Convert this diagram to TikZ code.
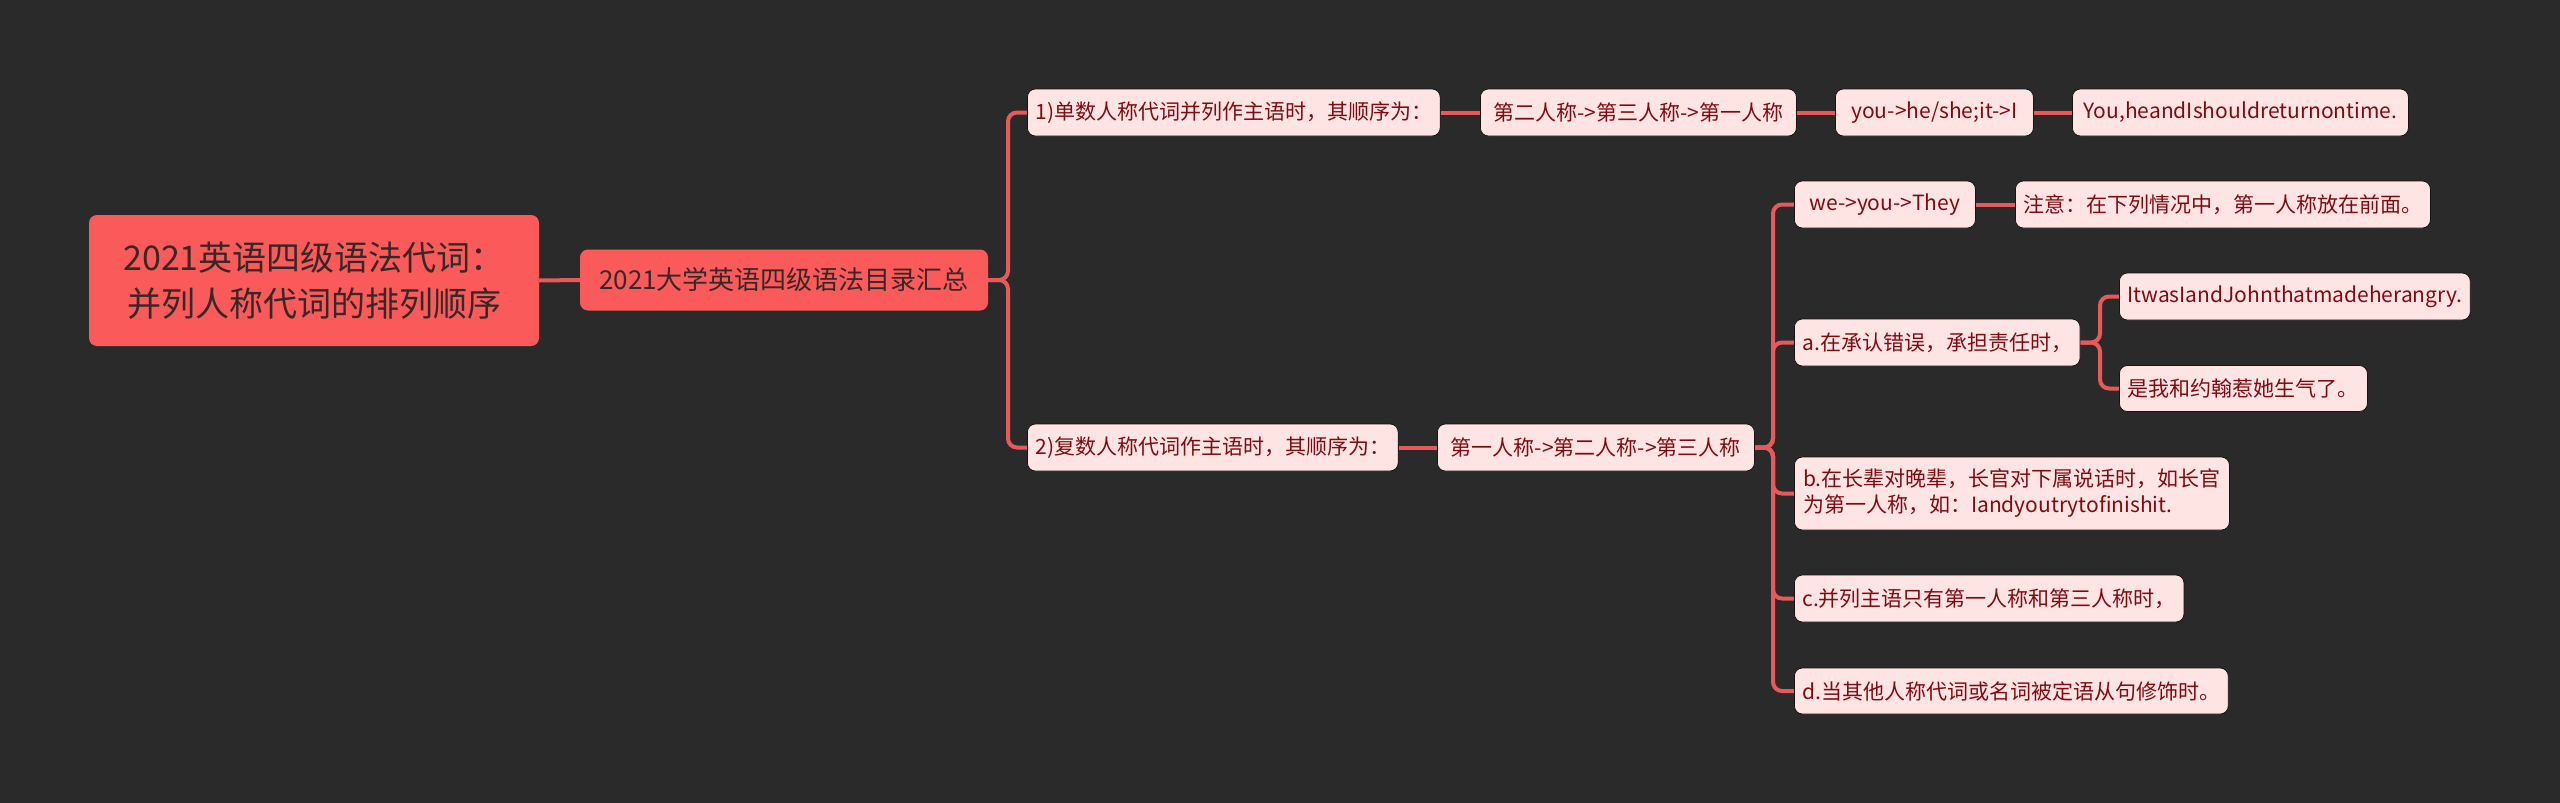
\documentclass[tikz,border=0pt]{standalone}
\usepackage{fontspec}
\setmainfont{Noto Sans CJK SC}
\usetikzlibrary{calc,backgrounds}
\definecolor{bg}{RGB}{42,42,42}
\definecolor{mainred}{RGB}{250,90,90}
\definecolor{linecol}{RGB}{232,90,90}
\definecolor{leaffill}{RGB}{255,228,228}
\definecolor{leaftext}{RGB}{125,12,18}
\definecolor{roottext}{RGB}{55,40,40}
\definecolor{edgecol}{RGB}{25,18,18}
\begin{document}
\begin{tikzpicture}[x=1pt,y=-1pt,
 base/.style={rounded corners=8pt, inner xsep=8pt, inner ysep=0pt},
 rootnode/.style={base, fill=mainred, text=roottext, font=\fontsize{34}{46}\selectfont, align=center, minimum width=450pt, minimum height=131pt},
 catnode/.style={base, fill=mainred, text=roottext, font=\fontsize{26}{30}\selectfont, minimum height=61pt, minimum width=408pt},
 leaf/.style={base, fill=leaffill, draw=edgecol, line width=0.8pt, text=leaftext, font=\fontsize{21}{26}\selectfont, minimum height=47pt, anchor=west},
 conn/.style={draw=linecol, line width=4pt, rounded corners=9pt},
]
\useasboundingbox (0,0) rectangle (2560,803);

\node[rootnode] (root) at (314,280.5) {2021英语四级语法代词：\\并列人称代词的排列顺序};
\node[catnode] (cat) at (784,280) {2021大学英语四级语法目录汇总};

\node[leaf, minimum width=412pt] (n1) at (1027,112.5) {1)单数人称代词并列作主语时，其顺序为：};
\node[leaf, minimum width=316pt] (n1a) at (1480,112.5) {第二人称->第三人称->第一人称};
\node[leaf, minimum width=198pt] (n1b) at (1835,112.5) {you->he/she;it->I};
\node[leaf, minimum width=336pt] (n1c) at (2072,112.5) {You,heandIshouldreturnontime.};

\node[leaf, minimum width=370pt] (n2) at (1027,447.5) {2)复数人称代词作主语时，其顺序为：};
\node[leaf, minimum width=317pt] (n2a) at (1437,447.5) {第一人称->第二人称->第三人称};

\node[leaf, minimum width=181pt] (w) at (1794,204.5) {we->you->They};
\node[leaf, minimum width=413pt] (wa) at (2015,204.5) {注意：在下列情况中，第一人称放在前面。};
\node[leaf, minimum width=285pt] (a) at (1794,342.5) {a.在承认错误，承担责任时，};
\node[leaf, minimum width=350pt] (aa) at (2119,296.5) {ItwasIandJohnthatmadeherangry.};
\node[leaf, minimum width=248pt, minimum height=46pt] (ab) at (2119,388.5) {是我和约翰惹她生气了。};
\node[leaf, minimum width=435pt, minimum height=73pt, align=left] (b) at (1794,493.5) {b.在长辈对晚辈，长官对下属说话时，如长官\\为第一人称，如：Iandyoutrytofinishit.};
\node[leaf, minimum width=388pt] (c) at (1794,598.5) {c.并列主语只有第一人称和第三人称时，};
\node[leaf, minimum width=433pt, minimum height=46pt] (d) at (1794,691) {d.当其他人称代词或名词被定语从句修饰时。};

\coordinate (busA) at (1008,0);
\coordinate (busB) at (1773,0);
\coordinate (busC) at (2100,0);

\begin{pgfonlayer}{background}
\fill[bg] (0,0) rectangle (2560,803);
\draw[conn] (root.east) -- (cat.west);
\draw[conn] (cat.east) -- (cat.east -| busA) |- (n1.west);
\draw[conn] (cat.east) -- (cat.east -| busA) |- (n2.west);
\draw[conn] (n1.east) -- (n1a.west);
\draw[conn] (n1a.east) -- (n1b.west);
\draw[conn] (n1b.east) -- (n1c.west);
\draw[conn] (n2.east) -- (n2a.west);
\draw[conn] (n2a.east) -- (n2a.east -| busB) |- (w.west);
\draw[conn] (n2a.east) -- (n2a.east -| busB) |- (a.west);
\draw[conn] (n2a.east) -- (n2a.east -| busB) |- (b.west);
\draw[conn] (n2a.east) -- (n2a.east -| busB) |- (c.west);
\draw[conn] (n2a.east) -- (n2a.east -| busB) |- (d.west);
\draw[conn] (w.east) -- (wa.west);
\draw[conn] (a.east) -- (a.east -| busC) |- (aa.west);
\draw[conn] (a.east) -- (a.east -| busC) |- (ab.west);
\end{pgfonlayer}
\end{tikzpicture}
\end{document}
